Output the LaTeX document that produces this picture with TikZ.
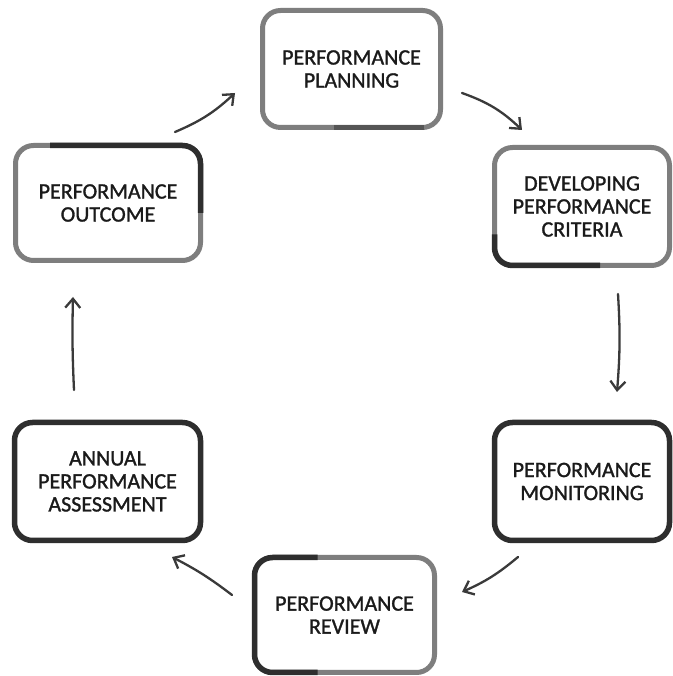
\documentclass[tikz,border=0pt]{standalone}
\usepackage{fontspec}
\setmainfont{Carlito}
\newfontfamily\boxfont{Carlito}[BoldFont=Carlito, BoldFeatures={FakeBold=1.3}]
\usetikzlibrary{arrows.meta}
\definecolor{boxgray}{HTML}{7E7E7E}
\definecolor{boxdark}{HTML}{2E2E2E}
\definecolor{boxmid}{HTML}{555555}
\definecolor{arrowgray}{HTML}{3A3A3A}
\definecolor{txt}{HTML}{1A1A1A}
\begin{document}
\begin{tikzpicture}[x=1pt,y=1pt,
  box/.style={draw=boxgray, line width=5pt, rounded corners=18pt, fill=white,
    outer sep=0pt, inner sep=0pt, align=center, text=txt,
    font=\boxfont\bfseries\fontsize{22}{23}\selectfont},
  darkbox/.style={box, draw=boxdark, line width=5.5pt},
  darkseg/.style={draw=boxdark, line width=5.5pt, rounded corners=18pt},
  flow/.style={draw=arrowgray, line width=2.3pt, line cap=round,
    -{Straight Barb[length=9pt,width=15pt,line width=2.3pt]}}]
\useasboundingbox[fill=white] (0,0) rectangle (672,676);

% boxes
\node[box, minimum width=178pt, minimum height=117pt] (plan) at (351.5,607) {PERFORMANCE\\PLANNING};
\node[box, minimum width=175pt, minimum height=118pt] (crit) at (582,469.5) {DEVELOPING\\PERFORMANCE\\CRITERIA};
\node[darkbox, minimum width=175pt, minimum height=118pt] (mon) at (582,194.5) {PERFORMANCE\\MONITORING};
\node[box, minimum width=180pt, minimum height=115pt] (rev) at (344.5,61) {PERFORMANCE\\REVIEW};
\node[darkbox, minimum width=186pt, minimum height=118pt] (ann) at (107.5,194.5) {ANNUAL\\PERFORMANCE\\ASSESSMENT};
\node[box, minimum width=185pt, minimum height=115pt] (out) at (108,473) {PERFORMANCE\\OUTCOME};

% darker worn border portions
\draw[darkseg, draw=boxmid] ([xshift=-18]plan.south) -- ([xshift=72]plan.south);
\draw[darkseg] ([yshift=-28]crit.west) |- ([xshift=18]crit.south);
\draw[darkseg] ([xshift=-58]out.north) -| ([yshift=-10]out.east);
\draw[darkseg] ([xshift=-27]rev.north) -| (rev.south west) -- ([xshift=-27]rev.south);

% connector end points
\coordinate (a1s) at (175,544);  \coordinate (a1e) at (235,583);
\coordinate (a2s) at (462,583);  \coordinate (a2e) at (522,546);
\coordinate (a3s) at (618,382);  \coordinate (a3e) at (617,284);
\coordinate (a4s) at (518,119);  \coordinate (a4e) at (462,84);
\coordinate (a5s) at (232,81);   \coordinate (a5e) at (172,119);
\coordinate (a6s) at (74,286);   \coordinate (a6e) at (73,379);

\draw[flow] (a1s) to[bend right=10] (a1e);
\draw[flow] (a2s) to[bend left=12] (a2e);
\draw[flow] (a3s) to[bend left=4] (a3e);
\draw[flow] (a4s) to[bend left=8] (a4e);
\draw[flow] (a5s) to[bend right=5] (a5e);
\draw[flow] (a6s) to[bend left=2] (a6e);
\end{tikzpicture}
\end{document}
